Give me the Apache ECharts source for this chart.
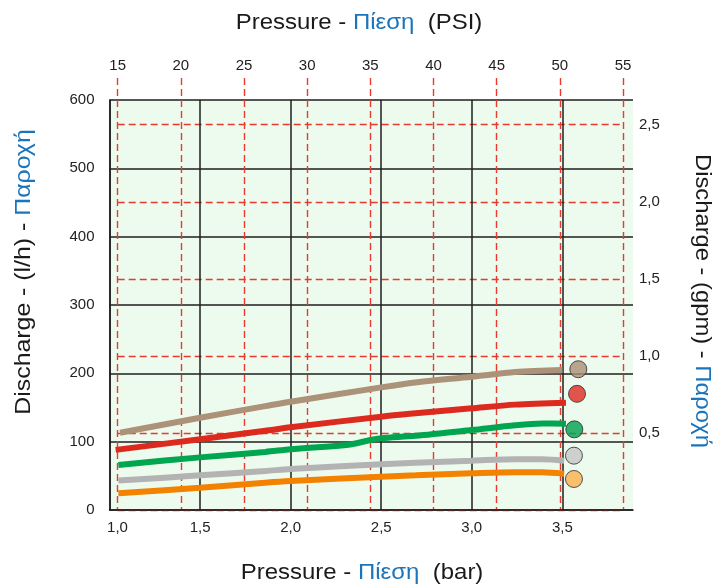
<!DOCTYPE html>
<html>
<head>
<meta charset="utf-8">
<script src="https://cdn.jsdelivr.net/npm/echarts@6/dist/echarts.min.js"></script>
<style>
html,body{margin:0;padding:0;background:#fff;}
#chart{width:726px;height:585px;}
</style>
</head>
<body>
<div id="chart"></div>
<script>
// ---- data (x in bar, y in l/h) ----
const barTicks = [1.0, 1.5, 2.0, 2.5, 3.0, 3.5];
const psiTicks = [15, 20, 25, 30, 35, 40, 45, 50, 55];
const lhTicks = [0, 100, 200, 300, 400, 500, 600];
const gpmTicks = [0, 0.5, 1.0, 1.5, 2.0, 2.5];

const tanLine = [[1.058,113],[1.5,135],[1.86,152],[2.0,158.5],[2.5,179.5],[2.7,187],[3.0,195],[3.24,202],[3.5,205]];
const redLine = [[1.034,88],[1.5,103.5],[1.86,116],[2.0,121],[2.5,136.6],[2.69,141.5],[3.0,148.8],[3.24,154.2],[3.52,157]];
const greenLine = [[1.049,66],[1.5,77],[1.86,85],[2.0,89],[2.33,96],[2.44,102.5],[2.5,105],[2.69,108.5],[3.0,117],[3.24,124],[3.39,126.6],[3.52,126.3]];
const greyLine = [[1.049,43],[1.5,50.7],[1.86,57],[2.0,60],[2.5,67],[2.69,69.3],[3.0,72.2],[3.24,74.4],[3.39,74.4],[3.51,72.2]];
const orangeLine = [[1.049,24.4],[1.5,32.7],[1.86,40],[2.0,42.4],[2.5,48.8],[2.69,50.7],[3.0,53.7],[3.24,55.4],[3.39,55.1],[3.51,53.2]];

const markerPoints = [[3.588,206],[3.581,170],[3.566,118],[3.564,79.5],[3.564,45.4]];

const lineColors = ['#ab9278','#dd2a1f','#00a550','#b3b3b3','#f28200'];
const markerColors = ['#a99075','#dc2a1f','#00a04f','#c6c6c6','#fdb04c'];

const FONT = '"Liberation Sans", Arial, sans-serif';
const BLUE = '#1b75bc';
const RED_DASH = {color:'#e63b2e', width:1.4, type:[7,4]};
const BLACK = {color:'#1e1e1e', width:1.5};
const comma = v => Number(v).toFixed(1).replace('.', ',');

const chart = echarts.init(document.getElementById('chart'), null, {renderer:'canvas'});

function titleText(x, y, rot, sx, a, b, c) {
  return {
    type:'text', x:x, y:y, rotation:rot, scaleX:sx, scaleY:1, z:10,
    style:{
      text:'{a|' + a + '}{b|' + b + '}{a|' + c + '}',
      align:'center', verticalAlign:'middle',
      rich:{
        a:{fontFamily:FONT, fontSize:22, fill:'#1a1a1a', color:'#1a1a1a'},
        b:{fontFamily:FONT, fontSize:22, fill:BLUE, color:BLUE}
      }
    }
  };
}

const lineSeries = [tanLine, redLine, greenLine, greyLine, orangeLine].map((d, i) => ({
  type:'line', xAxisIndex:0, yAxisIndex:0, data:d, smooth:0.3,
  showSymbol:false, symbol:'none', silent:true, z:5,
  lineStyle:{color:lineColors[i], width:6}
}));

const option = {
  animation:false,
  backgroundColor:'#ffffff',
  grid:[
    {left:109.5, top:100, width:523.5, height:410, show:true, backgroundColor:'#edfbef', borderWidth:0},
    {left:117.7, top:78, width:505.3, height:432, show:false}
  ],
  xAxis:[
    {
      type:'value', gridIndex:0, position:'bottom', min:1.0, max:3.89,
      axisLine:{show:true, lineStyle:BLACK},
      axisTick:{show:false, customValues:barTicks},
      splitLine:{show:true, lineStyle:BLACK},
      axisLabel:{
        customValues:barTicks, margin:10, fontFamily:FONT, fontSize:15, color:'#222',
        formatter:v => (Math.abs(v - 1) < 1e-6 ? '{f|' + comma(v) + '}' : comma(v)),
        rich:{f:{padding:[0,0,0,16], fontFamily:FONT, fontSize:15, color:'#222'}}
      }
    },
    {
      type:'value', gridIndex:1, position:'top', min:15, max:55, interval:5,
      axisLine:{show:false},
      axisTick:{show:false},
      splitLine:{show:true, lineStyle:RED_DASH},
      axisLabel:{margin:5, fontFamily:FONT, fontSize:15, color:'#222'}
    }
  ],
  yAxis:[
    {
      type:'value', gridIndex:0, position:'left', min:0, max:600, interval:100,
      axisLine:{show:true, lineStyle:BLACK},
      axisTick:{show:false},
      splitLine:{show:true, lineStyle:BLACK},
      axisLabel:{margin:15, fontFamily:FONT, fontSize:15, color:'#222'}
    },
    {
      type:'value', gridIndex:1, position:'right', min:0, max:2.803,
      axisLine:{show:false},
      axisTick:{show:false, customValues:gpmTicks},
      splitLine:{show:true, lineStyle:RED_DASH},
      axisLabel:{
        customValues:gpmTicks.filter(v => v > 0), margin:16, fontFamily:FONT, fontSize:15, color:'#222',
        formatter:v => comma(v)
      }
    }
  ],
  series: lineSeries.concat([{
    type:'scatter', xAxisIndex:0, yAxisIndex:0, z:6, silent:true,
    symbolSize:17,
    data:markerPoints.map((p, i) => ({value:p, itemStyle:{color:markerColors[i]}})),
    itemStyle:{borderColor:'#2a2a2a', borderWidth:1}
  }]),
  graphic:[
    titleText(359, 23, 0, 1.09, 'Pressure - ', 'Πίεση', '  (PSI)'),
    titleText(362, 573, 0, 1.09, 'Pressure - ', 'Πίεση', '  (bar)'),
    titleText(24, 272, Math.PI/2, 1.13, 'Discharge - (l/h) - ', 'Παροχή', ''),
    titleText(702, 301, -Math.PI/2, 1.08, 'Discharge - (gpm) - ', 'Παροχή', '')
  ]
};
chart.setOption(option);
</script>
</body>
</html>
